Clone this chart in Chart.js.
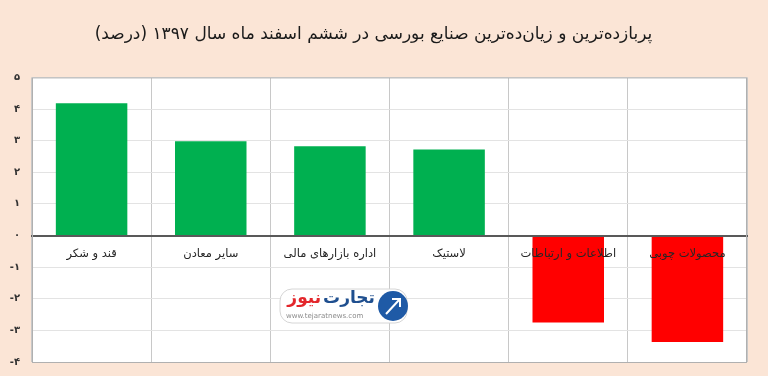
<!DOCTYPE html>
<html>
<head>
<meta charset="utf-8">
<script src="https://cdn.jsdelivr.net/npm/chart.js@4.4.0/dist/chart.umd.min.js"></script>
<style>
  html, body { margin: 0; padding: 0; background: #fbe5d6; }
  #wrap { width: 768px; height: 376px; position: relative; }
</style>
</head>
<body>
<div id="wrap"><canvas id="chart"></canvas></div>
<script>
// data
const categories = ['قند و شکر', 'سایر معادن', 'اداره بازارهای مالی', 'لاستیک', 'اطلاعات و ارتباطات', 'محصولات چوبی'];
const changes = [4.18, 2.98, 2.82, 2.72, -2.75, -3.37];
const tickValues = [5, 4, 3, 2, 1, 0, -1, -2, -3, -4];
const tickLabels = ['۵', '۴', '۳', '۲', '۱', '۰', '-۱', '-۲', '-۳', '-۴'];
const chartTitle = 'پربازده‌ترین و زیان‌ده‌ترین صنایع بورسی در ششم اسفند ماه سال ۱۳۹۷ (درصد)';

const FONT = '"DejaVu Sans", sans-serif';

// peach page, white plot area, thin outer frame
const backdrop = {
  id: 'backdrop',
  beforeDraw(chart) {
    const { ctx, chartArea: a } = chart;
    ctx.save();
    ctx.fillStyle = '#fbe5d6';
    ctx.fillRect(0, 0, chart.width, chart.height);
    ctx.fillStyle = '#ffffff';
    ctx.fillRect(a.left, a.top, a.right - a.left, a.bottom - a.top);
    ctx.restore();
  },
  afterDraw(chart) {
    const { ctx, chartArea: a } = chart;
    ctx.save();
    ctx.strokeStyle = '#b0b0b0';
    ctx.lineWidth = 1;
    ctx.strokeRect(a.left + 0.5, a.top + 0.5, a.right - a.left - 1, a.bottom - a.top);
    ctx.restore();
  }
};

// tejaratnews watermark
const watermark = {
  id: 'watermark',
  afterDatasetsDraw(chart) {
    const { ctx } = chart;
    const x = 280, y = 289, w = 127, h = 34;
    ctx.save();
    ctx.fillStyle = '#ffffff';
    ctx.strokeStyle = '#d6d6d6';
    ctx.lineWidth = 1;
    ctx.beginPath();
    ctx.roundRect(x, y, w, h, 12);
    ctx.fill();
    ctx.stroke();
    // round icon
    ctx.fillStyle = '#1f5aa6';
    ctx.beginPath();
    ctx.arc(393, 306, 15, 0, Math.PI * 2);
    ctx.fill();
    ctx.strokeStyle = '#ffffff';
    ctx.lineWidth = 2;
    ctx.beginPath();
    ctx.moveTo(386, 314);
    ctx.lineTo(399, 300);
    ctx.moveTo(392, 299);
    ctx.lineTo(400, 299);
    ctx.lineTo(400, 307);
    ctx.stroke();
    // name
    ctx.textBaseline = 'middle';
    ctx.textAlign = 'right';
    ctx.font = 'bold 17px ' + FONT;
    ctx.fillStyle = '#1f4f8f';
    ctx.fillText('تجارت', 375, 299);
    const w1 = ctx.measureText('تجارت').width;
    ctx.fillStyle = '#e3262b';
    ctx.fillText('نیوز', 373 - w1, 299);
    ctx.font = '7px ' + FONT;
    ctx.fillStyle = '#8a8a8a';
    ctx.textAlign = 'left';
    ctx.fillText('www.tejaratnews.com', 286, 316);
    ctx.restore();
  }
};

const noPad = (scale) => {
  scale.paddingTop = 0;
  scale.paddingBottom = 0;
  scale.paddingLeft = 0;
  scale.paddingRight = 0;
};

const data = {
  labels: categories,
  datasets: [{
    data: changes,
    backgroundColor: (c) => (c.raw >= 0 ? '#00b050' : '#ff0000'),
    borderWidth: 0,
    barPercentage: 0.6,
    categoryPercentage: 1.0
  }]
};

const config = {
  type: 'bar',
  data: data,
  plugins: [backdrop, watermark],
  options: {
    responsive: true,
    maintainAspectRatio: false,
    animation: false,
    devicePixelRatio: 1,
    layout: { padding: { left: 0, right: 21, bottom: 14, top: 0 } },
    plugins: {
      legend: { display: false },
      tooltip: { enabled: false },
      title: {
        display: true,
        text: '\u200F' + chartTitle + '\u200F',
        color: '#1a1a1a',
        font: { family: FONT, size: 17, weight: 'normal' },
        padding: { top: 24, bottom: 33 }
      }
    },
    scales: {
      x: {
        position: { y: 0 },
        afterFit: noPad,
        grid: { color: '#c8c8c8', drawTicks: false, offset: true },
        border: { color: '#595959', width: 2, z: 1 },
        ticks: {
          z: 1,
          color: '#262626',
          padding: 12,
          maxRotation: 0,
          autoSkip: false,
          font: { family: FONT, size: 11.5 }
        }
      },
      y: {
        min: -4,
        max: 5,
        afterFit(scale) { scale.width = 32; noPad(scale); },
        afterBuildTicks(scale) {
          scale.ticks = tickValues.map(v => ({ value: v }));
        },
        grid: { color: '#e3e3e3', drawTicks: false },
        border: { display: false },
        ticks: {
          color: '#333333',
          padding: 12,
          font: { family: FONT, size: 10, weight: 'bold' },
          callback: (v) => tickLabels[tickValues.indexOf(v)]
        }
      }
    }
  }
};

new Chart(document.getElementById('chart'), config);
</script>
</body>
</html>
